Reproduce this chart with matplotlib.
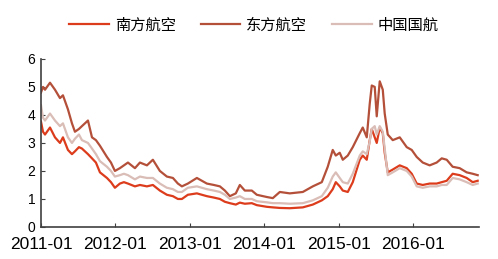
import numpy as np
import matplotlib
matplotlib.use("Agg")
import matplotlib.pyplot as plt

# years since 2011-01 (common sample grid for all three series)
t = [0.000, 0.027, 0.054, 0.121, 0.188, 0.255, 0.295, 0.362, 0.416, 0.456,
     0.510, 0.550, 0.631, 0.685, 0.738, 0.792, 0.886, 0.940, 0.993, 1.060,
     1.114, 1.168, 1.262, 1.329, 1.423, 1.503, 1.597, 1.691, 1.772, 1.839,
     1.893, 1.973, 2.094, 2.228, 2.322, 2.403, 2.470, 2.537, 2.617, 2.671,
     2.738, 2.832, 2.899, 3.034, 3.114, 3.208, 3.342, 3.517, 3.651, 3.772,
     3.852, 3.919, 3.960, 4.013, 4.054, 4.121, 4.188, 4.282, 4.322, 4.376,
     4.416, 4.443, 4.483, 4.510, 4.550, 4.591, 4.617, 4.658, 4.725, 4.819,
     4.913, 4.980, 5.047, 5.128, 5.221, 5.315, 5.383, 5.450, 5.530, 5.624,
     5.718, 5.799, 5.866]

# 东方航空
east = [4.8, 5.0, 4.9, 5.15, 4.9, 4.6, 4.7, 4.2, 3.7, 3.4,
        3.5, 3.6, 3.8, 3.2, 3.1, 2.9, 2.5, 2.3, 2.0, 2.1,
        2.2, 2.3, 2.1, 2.3, 2.2, 2.4, 2.0, 1.8, 1.75, 1.55,
        1.45, 1.55, 1.75, 1.55, 1.5, 1.45, 1.3, 1.1, 1.2, 1.5,
        1.3, 1.3, 1.15, 1.07, 1.03, 1.25, 1.2, 1.25, 1.45, 1.6,
        2.15, 2.75, 2.55, 2.65, 2.4, 2.55, 2.85, 3.35, 3.55, 3.2,
        4.4, 5.05, 5.0, 3.95, 5.2, 4.9, 4.05, 3.3, 3.1, 3.2,
        2.85, 2.75, 2.5, 2.3, 2.2, 2.3, 2.45, 2.4, 2.15, 2.1,
        1.95, 1.9, 1.85]

# 南方航空
south = [3.76, 3.4, 3.3, 3.55, 3.2, 3.0, 3.2, 2.75, 2.6, 2.7,
         2.85, 2.8, 2.6, 2.45, 2.3, 1.95, 1.75, 1.6, 1.4, 1.55,
         1.6, 1.55, 1.45, 1.5, 1.45, 1.5, 1.3, 1.15, 1.1, 1.0,
         1.0, 1.15, 1.2, 1.1, 1.05, 1.0, 0.9, 0.85, 0.8, 0.87,
         0.83, 0.85, 0.78, 0.72, 0.7, 0.68, 0.67, 0.7, 0.8, 0.95,
         1.1, 1.35, 1.6, 1.45, 1.3, 1.25, 1.6, 2.4, 2.55, 2.4,
         3.1, 3.5, 3.2, 3.0, 3.55, 3.35, 2.65, 1.95, 2.05, 2.2,
         2.1, 1.9, 1.55, 1.5, 1.55, 1.55, 1.6, 1.65, 1.9, 1.85,
         1.75, 1.6, 1.65]

# 中国国航
air_china = [4.35, 3.9, 3.8, 4.05, 3.8, 3.6, 3.7, 3.2, 3.0, 3.15,
             3.3, 3.1, 3.0, 2.8, 2.6, 2.35, 2.15, 2.0, 1.8, 1.85,
             1.9, 1.85, 1.7, 1.8, 1.75, 1.75, 1.55, 1.4, 1.35, 1.25,
             1.25, 1.4, 1.45, 1.35, 1.3, 1.25, 1.15, 1.0, 1.05, 1.1,
             1.0, 1.0, 0.92, 0.88, 0.85, 0.85, 0.83, 0.85, 0.95, 1.1,
             1.4, 1.8, 1.95, 1.75, 1.6, 1.55, 1.9, 2.55, 2.7, 2.6,
             3.05, 3.5, 3.6, 3.3, 3.6, 3.4, 2.8, 1.85, 1.95, 2.1,
             2.0, 1.8, 1.45, 1.4, 1.45, 1.45, 1.5, 1.5, 1.75, 1.7,
             1.6, 1.5, 1.55]

xticks = [0, 1, 2, 3, 4, 5]
xlabels = ["2011-01", "2012-01", "2013-01", "2014-01", "2015-01", "2016-01"]

fig = plt.figure(figsize=(4.98, 2.59), dpi=100)
ax = fig.add_axes([0.0823, 0.1236, 0.879, 0.649])

ax.plot(t, south, color="#dc3c1c", lw=1.6, label="南方航空")
ax.plot(t, east, color="#b4503a", lw=1.6, label="东方航空")
ax.plot(t, air_china, color="#d9bdb6", lw=1.6, label="中国国航")

ax.set_xlim(0, 5.88)
ax.set_ylim(0, 6)
ax.set_xticks(xticks)
ax.set_xticklabels(xlabels, fontsize=12.5, family="Liberation Sans")
ax.set_yticks(range(7))
ax.set_yticklabels([str(i) for i in range(7)], fontsize=10, family="Liberation Sans")
ax.tick_params(direction="in", length=3, color="#404040", pad=4)
ax.tick_params(axis="x", pad=7)

for s in ["top", "right"]:
    ax.spines[s].set_visible(False)
for s in ["left", "bottom"]:
    ax.spines[s].set_color("#404040")
    ax.spines[s].set_linewidth(1.2)

fig.legend(loc="upper center", bbox_to_anchor=(0.51, 0.99), ncol=3, frameon=False,
           prop={"family": ["Noto Sans CJK SC", "DejaVu Sans"], "size": 11},
           handlelength=2.6, handletextpad=0.4, columnspacing=1.6)

fig.savefig("out.png", dpi=100)
